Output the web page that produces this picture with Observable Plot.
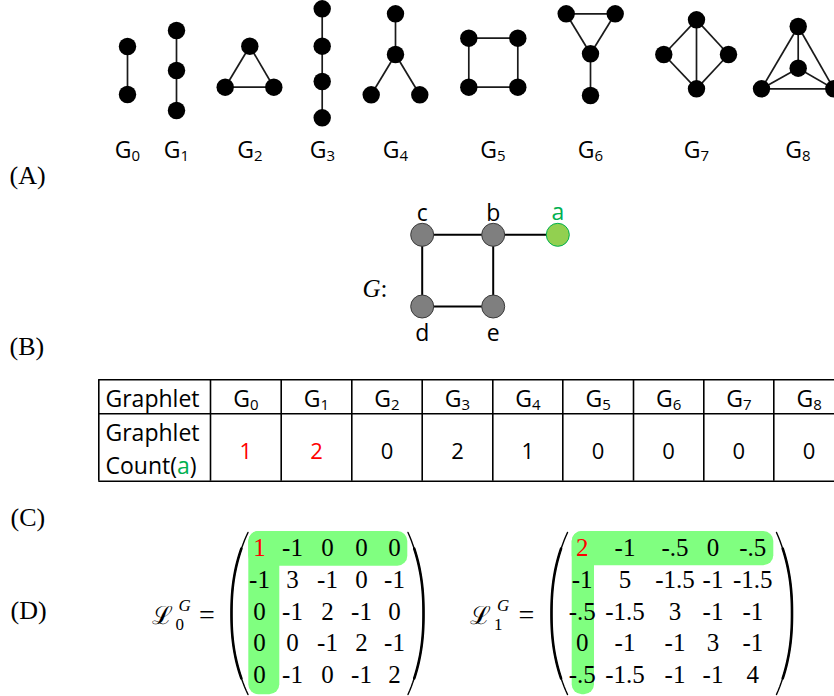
<!DOCTYPE html>
<html><head><meta charset="utf-8">
<script src="https://cdn.jsdelivr.net/npm/d3@7"></script>
<script src="https://cdn.jsdelivr.net/npm/@observablehq/plot@0.6"></script>
<style>html,body{margin:0;padding:0;background:#fff;} #chart{width:834px;height:696px;overflow:hidden}</style>
</head><body><div id="chart"></div>
<script>
// ================= VALUES =================
const graphletNames = ["G_0","G_1","G_2","G_3","G_4","G_5","G_6","G_7","G_8"];
const graphletCounts = [1, 2, 0, 2, 1, 0, 0, 0, 0];
const graphletEdges = [
  [[0,1]],
  [[0,1],[1,2]],
  [[0,1],[0,2],[1,2]],
  [[0,1],[1,2],[2,3]],
  [[0,1],[1,2],[1,3]],
  [[0,1],[1,3],[3,2],[2,0]],
  [[0,1],[0,2],[1,2],[2,3]],
  [[0,1],[0,2],[0,3],[1,3],[2,3]],
  [[0,1],[0,2],[0,3],[1,2],[1,3],[2,3]]
];
const nodeNames = ["a","b","c","d","e"];
const graphEdges = [["c","b"],["b","a"],["c","d"],["b","e"],["d","e"]];
const laplacian0 = [
  [1,-1,0,0,0],
  [-1,3,-1,0,-1],
  [0,-1,2,-1,0],
  [0,0,-1,2,-1],
  [0,-1,0,-1,2]
];
const laplacian1 = [
  [2,-1,-0.5,0,-0.5],
  [-1,5,-1.5,-1,-1.5],
  [-0.5,-1.5,3,-1,-1],
  [0,-1,-1,3,-1],
  [-0.5,-1.5,-1,-1,4]
];
const panelLetters = ["(A)","(B)","(C)","(D)"];
const tableRowHeads = ["Graphlet", "Graphlet", "Count(a)"];
const matrixSubs = ["0","1"];

// ================= LAYOUT =================
const graphletNodeLayout = [
  [[127,46],[127,94]],
  [[176,30],[176,70],[176,110]],
  [[249.3,45.7],[224.7,86.7],[273.3,86.7]],
  [[321.7,8.3],[321.7,45.7],[321.7,81],[321.7,117.3]],
  [[395,13.3],[395,54],[370.7,94.3],[419.3,94.3]],
  [[468.3,37.7],[517.3,37.7],[468.3,86.7],[517.3,86.7]],
  [[565.7,13.3],[614.7,13.3],[590,53.3],[590,95]],
  [[696,19.3],[663.3,54],[728,54],[696,88.3]],
  [[797.7,26],[797.7,67.7],[761,88.3],[833.3,88.3]]
];
const graphletLabelX = [127,176,249.5,322,395,492.5,590,696,797.5];
const graphletLabelY = 157;
const panelLetterPos = [[9,183],[9,354],[10,525],[10,618]];
const gNodePos = {a:[557.3,234.3], b:[492.7,234.3], c:[421.7,234.3], d:[421.7,306], e:[492.7,306]};
const gLabelPos = {a:[557.3,219.5], b:[492.7,220.7], c:[421.7,220.7], d:[421.7,340], e:[492.7,340]};
const tableCols = [98.3,210,280.7,351.3,421.7,492.3,562.3,633,703.3,773.3,844];
const tableRows = [379.3,413.3,480.7];
const matRowY = [555,587,619,650.7,682.3];
const mat0ColX = [259,292,327,361,394];
const mat1ColX = [581.7,624.5,674.5,712.5,752.3];

// ================= BUILD =================
const graphletDots = graphletNodeLayout.flatMap((nodes,g)=>nodes.map(([x,y])=>({g,x,y})));
const graphletLinks = graphletEdges.flatMap((es,g)=>es.map(([i,j])=>{
  const a = graphletNodeLayout[g][i], b = graphletNodeLayout[g][j];
  return {x1:a[0],y1:a[1],x2:b[0],y2:b[1]};
}));
const graphletLabels = graphletNames.map((name,i)=>({name, x:graphletLabelX[i], y:graphletLabelY}));
const letters = panelLetters.map((t,i)=>({t, x:panelLetterPos[i][0], y:panelLetterPos[i][1]}));

const gDots = nodeNames.map(n=>({n, x:gNodePos[n][0], y:gNodePos[n][1],
  fill: n==="a" ? "#92d050" : "#7f7f7f", stroke: n==="a" ? "#00b050" : "#3a3a3a"}));
const gLinks = graphEdges.map(([s,t])=>({x1:gNodePos[s][0],y1:gNodePos[s][1],x2:gNodePos[t][0],y2:gNodePos[t][1]}));
const gLabels = nodeNames.map(n=>({n, x:gLabelPos[n][0], y:gLabelPos[n][1], fill: n==="a" ? "#00b050" : "black"}));

const tableH = tableRows.map(y=>({y, x1:tableCols[0], x2:834}));
const tableV = tableCols.map(x=>({x, y1:tableRows[0], y2:tableRows[2]}));
const colCenter = i => (tableCols[i+1]+tableCols[i+2])/2;
const tableHeader = graphletNames.map((name,i)=>({name, x:colCenter(i), y:406}));
const tableCounts = graphletCounts.map((v,i)=>({v:String(v), x:colCenter(i), y:458.3, fill: i<2 ? "#ff0000" : "black"}));
const rowHeads = tableRowHeads.map((t,i)=>({t, x:105, y:[406,440,473][i]}));

const fmt = v => (v<0?"-":"") + String(Math.abs(v)).replace(/^0\./,".");
const matCells = (M, cols) => M.flatMap((row,r)=>row.map((v,c)=>({t:fmt(v), x:cols[c], y:matRowY[r], fill: (r===0&&c===0) ? "#ff0000" : "black"})));
const cells = [...matCells(laplacian0, mat0ColX), ...matCells(laplacian1, mat1ColX)];

const highlight = [
  {x1:248.3,x2:407.3,y1:531,y2:565.7},{x1:248.3,x2:279.3,y1:531,y2:694.3},
  {x1:571.7,x2:773.3,y1:531,y2:565.3},{x1:571.7,x2:594,y1:531,y2:694.3}
];
function paren(id, xo, xi, yt, yb, t0=0, t1=1, n=40){
  const pts=[];
  for(let i=0;i<=n;i++){const t=t0+(t1-t0)*i/n; pts.push({id, x: xo+(xi-xo)*Math.pow(Math.abs(2*t-1),2.3), y: yt+t*(yb-yt)});}
  return pts;
}
const parenSpecs = [[231,247.5,532,694],[423,407.5,532,694],[551,567,532,694],[791.5,776,532,694]];
const parenThin = parenSpecs.flatMap((s,i)=>paren("p"+i, ...s));
const parenThick = parenSpecs.flatMap((s,i)=>paren("q"+i, ...s, 0.1, 0.9));

const lsym = [{x:151.5,y:623},{x:469.5,y:623}];
const lsup = [{x:178,y:610.5},{x:496.5,y:610.5}];
const lsub = matrixSubs.map((t,i)=>({t, x:[175,493.5][i], y:629}));
const eqs = [{x:206.5,y:623},{x:526,y:623}];

const sans = "Open Sans";
const serif = "Liberation Serif";

const plot = Plot.plot({
  width: 834, height: 696, margin: 0,
  x: {domain:[0,834], range:[0,834], axis:null},
  y: {domain:[0,696], range:[0,696], axis:null},
  color: {type:"identity"},
  style: {background:"white", fontFamily: sans},
  marks: [
    Plot.rect(highlight, {x1:"x1",x2:"x2",y1:"y1",y2:"y2", rx:10, fill:"#80ff80"}),
    // Panel A
    Plot.link(graphletLinks, {x1:"x1",y1:"y1",x2:"x2",y2:"y2", stroke:"#1a1a1a", strokeWidth:1.7}),
    Plot.dot(graphletDots, {x:"x", y:"y", r:8.7, fill:"black", stroke:"none"}),
    Plot.text(graphletLabels, {x:"x", y:"y", text:"name", fontFamily:sans, fontSize:23, lineAnchor:"bottom", fill:"black"}),
    // panel letters
    Plot.text(letters, {x:"x", y:"y", text:"t", textAnchor:"start", lineAnchor:"bottom", fontFamily:serif, fontSize:26, fill:"black"}),
    // Panel B
    Plot.link(gLinks, {x1:"x1",y1:"y1",x2:"x2",y2:"y2", stroke:"black", strokeWidth:2}),
    Plot.dot(gDots, {x:"x", y:"y", r:11.5, fill:"fill", stroke:"stroke", strokeWidth:1}),
    Plot.text(gLabels, {x:"x", y:"y", text:"n", fill:"fill", fontFamily:sans, fontSize:23, lineAnchor:"bottom"}),
    Plot.text([{t:"G:", x:362, y:296}], {x:"x", y:"y", text:"t", textAnchor:"start", lineAnchor:"bottom", fontFamily:serif, fontSize:25, fontStyle:"italic"}),
    // Panel C table
    Plot.ruleY(tableH, {y:"y", x1:"x1", x2:"x2", stroke:"black", strokeWidth:1.6}),
    Plot.ruleX(tableV, {x:"x", y1:"y1", y2:"y2", stroke:"black", strokeWidth:1.6}),
    Plot.text(rowHeads, {x:"x", y:"y", text:"t", textAnchor:"start", lineAnchor:"bottom", fontFamily:sans, fontSize:23, fill:"black"}),
    Plot.text(tableHeader, {x:"x", y:"y", text:"name", fontFamily:sans, fontSize:23, lineAnchor:"bottom", fill:"black"}),
    Plot.text(tableCounts, {x:"x", y:"y", text:"v", fill:"fill", fontFamily:sans, fontSize:22, lineAnchor:"bottom"}),
    // Panel D matrices
    Plot.line(parenThin, {x:"x", y:"y", z:"id", stroke:"black", strokeWidth:1.4, curve:"linear"}),
    Plot.line(parenThick, {x:"x", y:"y", z:"id", stroke:"black", strokeWidth:2.6, curve:"linear"}),
    Plot.text(cells, {x:"x", y:"y", text:"t", fill:"fill", fontFamily:serif, fontSize:25, lineAnchor:"bottom"}),
    Plot.text(lsym, {x:"x", y:"y", text:()=>"ℒ", textAnchor:"start", lineAnchor:"bottom", fontFamily:"DejaVu Serif", fontSize:25, fill:"black"}),
    Plot.text(lsup, {x:"x", y:"y", text:()=>"G", textAnchor:"start", lineAnchor:"bottom", fontFamily:serif, fontStyle:"italic", fontSize:17, fill:"black"}),
    Plot.text(lsub, {x:"x", y:"y", text:"t", textAnchor:"start", lineAnchor:"bottom", fontFamily:serif, fontSize:17, fill:"black"}),
    Plot.text(eqs, {x:"x", y:"y", text:()=>"=", lineAnchor:"bottom", fontFamily:serif, fontSize:28, fill:"black"})
  ]
});
document.getElementById("chart").appendChild(plot);

// post-process text content into tspans
d3.select(plot).selectAll("text").each(function(){
  const t = d3.select(this);
  if (this.querySelector("tspan")) return;
  const s = t.text();
  if (/^G_\d$/.test(s)) {
    const [base, sub] = s.split("_");
    t.text(null);
    t.append("tspan").text(base);
    t.append("tspan").attr("font-size", 15).attr("dy", 3).text(sub);
  } else if (s === "Count(a)") {
    t.text(null);
    t.append("tspan").text("Count(");
    t.append("tspan").attr("fill","#00b050").text("a");
    t.append("tspan").text(")");
  } else if (s === "G:") {
    t.text(null);
    t.append("tspan").text("G");
    t.append("tspan").attr("font-style","normal").text(":");
  }
});
</script></body></html>
